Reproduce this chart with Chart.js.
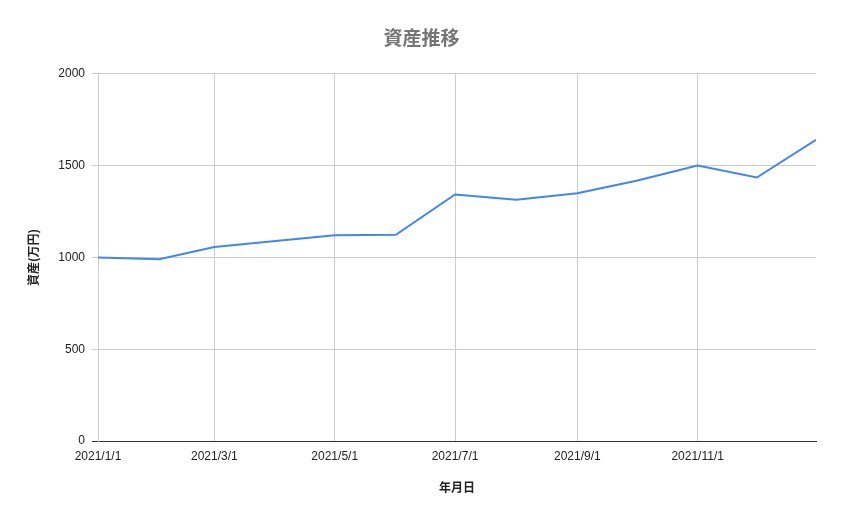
<!DOCTYPE html>
<html>
<head>
<meta charset="utf-8">
<script src="https://cdn.jsdelivr.net/npm/chart.js@4"></script>
<style>
  body { margin: 0; background: #fff; }
</style>
</head>
<body>
<canvas id="assetChart" width="843" height="521"></canvas>
<script>
// data
const dates = ["2021/1/1", "2021/2/1", "2021/3/1", "2021/4/1", "2021/5/1", "2021/6/1", "2021/7/1",
  "2021/8/1", "2021/9/1", "2021/10/1", "2021/11/1", "2021/12/1", "2021/12/31"];
const assets = [1000, 990, 1057, 1089, 1121, 1123, 1343, 1314, 1350, 1417, 1500, 1435, 1640];
const tickLabels = ["2021/1/1", "2021/3/1", "2021/5/1", "2021/7/1", "2021/9/1", "2021/11/1"];
const yTicks = [0, 500, 1000, 1500, 2000];

// days since the first date, so a plain linear axis can stand in for time
function dayOf(str) {
  const p = str.split("/").map(Number);
  return (Date.UTC(p[0], p[1] - 1, p[2]) - Date.UTC(2021, 0, 1)) / 86400000;
}

const points = dates.map((d, i) => ({ x: dayOf(d), y: assets[i] }));
const tickDays = tickLabels.map(dayOf);

const tickFont = { family: "'Liberation Sans', Arial, sans-serif", size: 12 };
const cjkFont = "'Noto Sans CJK JP', 'Liberation Sans', sans-serif";

new Chart(document.getElementById("assetChart"), {
  type: "line",
  data: {
    datasets: [
      {
        label: "資産",
        data: points,
        borderColor: "#4285f4",
        borderWidth: 2,
        pointRadius: 0,
        tension: 0,
      },
    ],
  },
  options: {
    responsive: false,
    animation: false,
    layout: { padding: 0 },
    plugins: {
      legend: { display: false },
      tooltip: { enabled: false },
      title: {
        display: true,
        text: "資産推移",
        color: "#757575",
        font: { family: cjkFont, size: 19, weight: "bold" },
        padding: { top: 26, bottom: 25 },
      },
    },
    scales: {
      x: {
        type: "linear",
        min: 0,
        max: dayOf(dates[dates.length - 1]),
        afterBuildTicks: (scale) => {
          scale.ticks = tickDays.map((v) => ({ value: v }));
        },
        afterFit: (scale) => {
          scale.height = 80;
        },
        ticks: {
          autoSkip: false,
          maxRotation: 0,
          padding: 8,
          color: "#222",
          font: tickFont,
          callback: (value) => tickLabels[tickDays.indexOf(value)],
        },
        grid: { color: "#cccccc", drawTicks: false },
        border: { color: "#333", width: 1 },
        title: {
          display: true,
          text: "年月日",
          color: "#222",
          font: { family: cjkFont, size: 12, weight: "bold" },
          padding: { top: 0, bottom: 26 },
        },
      },
      y: {
        min: 0,
        max: 2000,
        afterBuildTicks: (scale) => {
          scale.ticks = yTicks.map((v) => ({ value: v }));
        },
        afterFit: (scale) => {
          scale.width = 98;
        },
        ticks: {
          padding: 7,
          color: "#222",
          font: tickFont,
          callback: (value) => String(value),
        },
        grid: {
          color: (ctx) => (ctx.tick && ctx.tick.value === 0 ? "#333" : "#cccccc"),
          tickLength: 6,
        },
        border: { color: "#cccccc" },
        title: {
          display: true,
          text: "資産(万円)",
          color: "#222",
          font: { family: cjkFont, size: 12, weight: "bold" },
          padding: { top: 26, bottom: 0 },
        },
      },
      // empty right-hand margin so the title stays centred on the whole canvas
      yRight: {
        position: "right",
        min: 0,
        max: 2000,
        afterFit: (scale) => {
          scale.width = 27;
        },
        ticks: { display: false },
        grid: { display: false },
        border: { display: false },
      },
    },
  },
});
</script>
</body>
</html>
